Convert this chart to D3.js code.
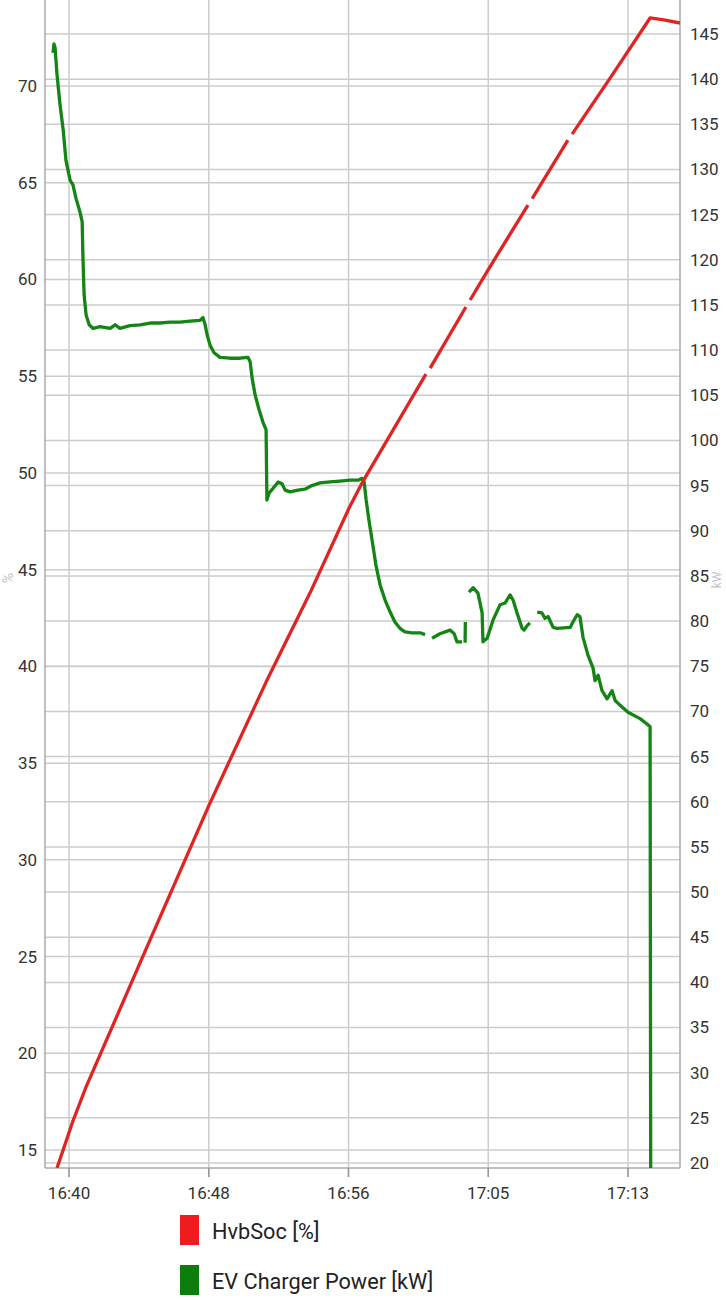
<!DOCTYPE html>
<html><head><meta charset="utf-8">
<script src="https://cdn.jsdelivr.net/npm/d3@7"></script>
<style>body{margin:0;background:#fff;} svg{display:block;font-family:Roboto,"Noto Sans",sans-serif;}</style>
</head><body><svg id="c" width="726" height="1300"></svg>
<script>
// ---- data ----
const socTimes = ["16:39:17","16:40:14","16:41:01","16:44:14","16:48:21","16:51:45","16:54:22","16:56:42","16:57:32","16:58:33","17:00:20","17:01:17","17:01:20","17:01:32","17:03:40","17:03:43","17:03:55","17:04:59","17:07:22","17:07:25","17:07:37","17:09:45","17:09:48","17:10:00","17:12:16","17:14:39","17:15:33","17:16:26"];
const socValues = [14.07,16.5,18.26,24.67,32.83,39.19,43.79,48.19,49.58,51.08,53.71,55.11,null,55.42,58.58,null,58.94,60.49,63.85,null,64.18,67.21,null,67.52,70.41,73.52,73.41,73.26];

const powerTimes = ["16:39:03","16:39:06","16:39:10","16:39:17","16:39:28","16:39:39","16:39:49","16:40:04","16:40:14","16:40:25","16:40:39","16:40:47","16:40:50","16:40:54","16:41:01","16:41:12","16:41:26","16:41:51","16:42:27","16:42:45","16:43:02","16:43:38","16:44:14","16:44:50","16:45:26","16:46:01","16:46:37","16:47:13","16:47:49","16:47:59","16:48:07","16:48:14","16:48:25","16:48:39","16:49:00","16:49:36","16:50:12","16:50:40","16:50:48","16:50:55","16:51:06","16:51:20","16:51:34","16:51:45","16:51:48","16:51:56","16:52:10","16:52:28","16:52:42","16:52:53","16:53:11","16:53:39","16:54:04","16:54:29","16:54:58","16:55:34","16:56:10","16:56:45","16:57:14","16:57:28","16:57:36","16:57:43","16:57:53","16:58:04","16:58:18","16:58:33","16:58:51","16:59:09","16:59:26","16:59:44","17:00:02","17:00:27","17:00:56","17:01:14","17:01:28","17:01:39","17:02:07","17:02:43","17:02:58","17:03:08","17:03:26","17:03:30","17:03:37","17:03:38","17:03:42","17:03:51","17:04:06","17:04:23","17:04:38","17:04:41","17:04:56","17:05:17","17:05:42","17:06:00","17:06:18","17:06:29","17:06:43","17:07:01","17:07:08","17:07:19","17:07:29","17:07:36","17:07:55","17:08:12","17:08:23","17:08:34","17:08:52","17:09:06","17:09:53","17:10:03","17:10:18","17:10:28","17:10:39","17:10:57","17:11:15","17:11:22","17:11:33","17:11:47","17:12:05","17:12:23","17:12:34","17:12:51","17:13:20","17:14:03","17:14:28","17:14:39","17:14:42"];
const powerValues = [142.9,143.9,143.5,140.5,137.1,134.4,131.0,128.8,128.3,126.8,125.3,124.2,120.0,116.1,113.9,112.8,112.4,112.6,112.4,112.8,112.4,112.7,112.8,113.0,113.0,113.1,113.1,113.2,113.3,113.6,112.8,111.7,110.5,109.7,109.2,109.1,109.1,109.2,108.7,106.9,105.0,103.4,102.0,101.2,93.4,94.2,94.7,95.4,95.2,94.5,94.3,94.5,94.6,95.0,95.3,95.4,95.5,95.6,95.6,95.8,95.4,93.4,91.2,89.0,86.2,84.0,82.3,81.0,79.9,79.2,78.8,78.7,78.7,78.5,null,78.1,78.6,79.0,78.6,77.7,77.7,null,77.6,79.9,null,83.2,83.7,83.1,80.9,77.7,78.1,80.1,81.8,82.0,82.9,82.3,80.9,79.2,79.0,79.5,79.8,null,81.0,80.9,80.3,80.5,79.3,79.2,79.3,79.9,80.7,80.5,78.2,76.2,74.8,73.4,74.0,72.3,71.4,72.3,71.2,70.7,69.9,69.2,68.6,68.3,0];

const xTickTimes = ["16:40:00","16:48:20","16:56:40","17:05:00","17:13:20"];
const leftTicks = [15,20,25,30,35,40,45,50,55,60,65,70];
const rightTicks = [20,25,30,35,40,45,50,55,60,65,70,75,80,85,90,95,100,105,110,115,120,125,130,135,140,145];
const xDomain = ["16:38:34","17:16:26"];
const leftDomain = [14.07, 74.45];
const rightDomain = [19.45, 148.76];
const seriesNames = ["HvbSoc [%]","EV Charger Power [kW]"];
const axisTitles = ["%","kW"];
const seriesColors = ["#e02424","#148414"];
const legendColors = ["#ee1c1c","#0b7d0b"];

// ---- layout ----
const W = 726, H = 1300;
const P = {left:45, right:680, top:0, bottom:1168};
const parse = d3.timeParse("%H:%M:%S");
const svg = d3.select("#c");
svg.append("rect").attr("width",W).attr("height",H).attr("fill","#fff");

const x = d3.scaleTime().domain(xDomain.map(parse)).range([P.left,P.right]);
const yL = d3.scaleLinear().domain(leftDomain).range([P.bottom,P.top]);
const yR = d3.scaleLinear().domain(rightDomain).range([P.bottom,P.top]);
const fmt = d3.timeFormat("%H:%M");
const grid = "#cccccc";

svg.append("g").selectAll("line").data(leftTicks).join("line")
  .attr("x1",P.left).attr("x2",P.right).attr("y1",d=>yL(d)).attr("y2",d=>yL(d))
  .attr("stroke",grid).attr("stroke-width",1.5);
svg.append("g").selectAll("line").data(rightTicks).join("line")
  .attr("x1",P.left).attr("x2",P.right).attr("y1",d=>yR(d)).attr("y2",d=>yR(d))
  .attr("stroke",grid).attr("stroke-width",1.5);
const xt = xTickTimes.map(parse);
svg.append("g").selectAll("line").data(xt).join("line")
  .attr("x1",d=>x(d)).attr("x2",d=>x(d)).attr("y1",P.top).attr("y2",P.bottom+9)
  .attr("stroke",grid).attr("stroke-width",1.5);

const ax = "#aaaaaa";
svg.append("line").attr("x1",P.left).attr("x2",P.left).attr("y1",P.top).attr("y2",P.bottom).attr("stroke",ax).attr("stroke-width",1.5);
svg.append("line").attr("x1",P.right).attr("x2",P.right).attr("y1",P.top).attr("y2",P.bottom).attr("stroke",ax).attr("stroke-width",1.5);
svg.append("line").attr("x1",P.left).attr("x2",P.right).attr("y1",P.bottom).attr("y2",P.bottom).attr("stroke",ax).attr("stroke-width",1.5);
svg.append("g").selectAll("line").data(xt).join("line")
  .attr("x1",d=>x(d)).attr("x2",d=>x(d)).attr("y1",P.bottom).attr("y2",P.bottom+9)
  .attr("stroke","#999").attr("stroke-width",1.5);

const lab = "#333";
svg.append("g").selectAll("text").data(leftTicks).join("text")
  .attr("x",P.left-8).attr("y",d=>yL(d)).attr("dy","0.35em").attr("text-anchor","end")
  .attr("font-size",17).attr("fill",lab).text(d=>d);
svg.append("g").selectAll("text").data(rightTicks).join("text")
  .attr("x",P.right+10).attr("y",d=>yR(d)).attr("dy","0.35em").attr("text-anchor","start")
  .attr("font-size",17).attr("fill",lab).text(d=>d);
svg.append("g").selectAll("text").data(xt).join("text")
  .attr("x",d=>x(d)).attr("y",P.bottom+25).attr("dy","0.35em").attr("text-anchor","middle")
  .attr("font-size",17).attr("fill",lab).text(d=>fmt(d));

// axis titles
svg.append("text").attr("transform",`translate(13,578) rotate(-90)`).attr("text-anchor","middle")
  .attr("font-size",14).attr("fill","#c4c4c4").text(axisTitles[0]);
svg.append("text").attr("transform",`translate(721,580) rotate(-90)`).attr("text-anchor","middle")
  .attr("font-size",12).attr("fill","#c4c4c4").text(axisTitles[1]);

svg.append("clipPath").attr("id","clip").append("rect")
  .attr("x",P.left).attr("y",P.top).attr("width",P.right-P.left).attr("height",P.bottom-P.top);

const powerData = powerTimes.map((t,i)=>({t:parse(t),v:powerValues[i]}));
const socData = socTimes.map((t,i)=>({t:parse(t),v:socValues[i]}));
const lineR = d3.line().defined(d=>d.v!=null).x(d=>x(d.t)).y(d=>yR(d.v));
const lineL = d3.line().defined(d=>d.v!=null).x(d=>x(d.t)).y(d=>yL(d.v));

const g = svg.append("g").attr("clip-path","url(#clip)");
g.append("path").datum(powerData).attr("d",lineR).attr("fill","none")
  .attr("stroke",seriesColors[1]).attr("stroke-width",3.3).attr("stroke-linejoin","round");
g.append("path").datum(socData).attr("d",lineL).attr("fill","none")
  .attr("stroke",seriesColors[0]).attr("stroke-width",3.3).attr("stroke-linejoin","round");

const lg = svg.append("g");
seriesNames.forEach((n,i)=>{
  const y0 = 1215 + i*50;
  lg.append("rect").attr("x",180).attr("y",y0).attr("width",19).attr("height",30).attr("fill",legendColors[i]);
  lg.append("text").attr("x",212).attr("y",y0+24).attr("font-size",21.7).attr("fill","#222").text(n);
});
</script></body></html>
